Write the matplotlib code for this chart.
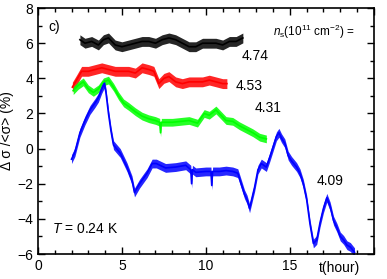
import matplotlib
matplotlib.use("Agg")
import matplotlib.pyplot as plt
import numpy as np

plt.rcParams['font.family'] = ['Liberation Sans', 'DejaVu Sans']
plt.rcParams['mathtext.fontset'] = 'custom'
plt.rcParams['mathtext.rm'] = 'Liberation Sans'
plt.rcParams['mathtext.it'] = 'Liberation Sans:italic'

# ---- data ----
t_474 = [2.5, 2.8, 3.2, 3.6, 3.9, 4.2, 4.6, 5.0, 5.4, 5.8, 6.2, 6.6, 7.0, 7.4, 7.8,
         8.2, 8.6, 9.0, 9.4, 9.8, 10.2, 10.6, 11.0, 11.4, 11.8, 12.2]
v_474 = [6.2, 6.0, 6.1, 5.9, 6.2, 6.3, 5.9, 5.8, 5.9, 6.0, 6.1, 6.1, 6.0, 6.2, 6.3,
         6.2, 6.0, 5.8, 5.8, 6.0, 6.0, 6.0, 5.9, 6.1, 6.1, 6.3]

t_453 = [2.05, 2.3, 2.6, 3.0, 3.4, 3.8, 4.2, 4.6, 5.0, 5.4, 5.8, 6.2, 6.6, 6.9, 7.2,
         7.5, 7.8, 8.2, 8.6, 9.0, 9.4, 9.8, 10.2, 10.6, 11.0, 11.25]
v_453 = [3.5, 3.9, 4.4, 4.4, 4.5, 4.6, 4.5, 4.4, 4.4, 4.4, 4.3, 4.6, 4.5, 4.4, 3.7,
         4.0, 4.1, 3.8, 3.7, 3.8, 3.8, 3.8, 3.9, 3.8, 3.7, 3.7]

t_431 = [2.1, 2.4, 2.7, 3.0, 3.3, 3.6, 3.9, 4.2, 4.5, 4.8, 5.1, 5.4, 5.8, 6.2, 6.6,
         7.0, 7.25, 7.3, 7.35, 7.5, 8.0, 8.5, 9.0, 9.5, 9.9, 10.2, 10.6, 10.9, 11.2,
         11.6, 12.0, 12.4, 12.8, 13.2, 13.6]
v_431 = [3.3, 3.6, 3.8, 3.4, 3.2, 3.4, 3.8, 3.9, 3.5, 3.0, 2.6, 2.4, 2.1, 1.85, 1.7,
         1.6, 1.5, 0.9, 1.5, 1.5, 1.5, 1.55, 1.6, 1.45, 2.0, 1.9, 2.2, 1.9, 1.6,
         1.55, 1.3, 1.1, 0.9, 0.65, 0.55]

t_409 = [2.0, 2.2, 2.5, 2.8, 3.1, 3.4, 3.6, 3.8, 3.95, 4.05, 4.2, 4.35, 4.5, 4.9,
         5.3, 5.6, 5.75, 6.05, 6.5, 6.8, 7.05, 7.6, 8.2, 8.8, 9.1, 9.15, 9.2, 9.4,
         10.0, 10.3, 10.35, 10.4, 10.8, 11.2, 11.6, 11.9, 12.1, 12.3, 12.45, 12.6,
         12.75, 12.9, 13.1, 13.3, 13.6, 13.8, 14.0, 14.2, 14.35, 14.5, 14.7, 14.9,
         15.1, 15.4, 15.6, 15.8, 16.0, 16.2, 16.4, 16.6, 16.8, 17.0, 17.2, 17.4,
         17.6, 17.8, 18.0, 18.2, 18.4, 18.6, 18.85]
v_409 = [-0.6, -0.2, 0.9, 1.6, 2.2, 2.6, 2.9, 3.4, 3.7, 3.2, 2.0, 1.0, 0.2, -0.25,
         -1.05, -1.8, -2.5, -2.0, -1.4, -0.85, -0.85, -1.1, -1.05, -0.95, -1.2,
         -2.0, -1.2, -1.35, -1.3, -1.3, -2.1, -1.3, -1.3, -1.25, -1.3, -1.4, -2.0,
         -2.6, -2.9, -3.4, -2.8, -2.2, -1.2, -0.85, -1.05, -0.5, 0.1, 0.7, 0.9, 0.6,
         0.3, -0.4, -0.7, -1.05, -1.4, -2.0, -2.9, -4.3, -5.4, -5.2, -4.2, -3.4,
         -2.8, -3.3, -4.1, -4.5, -5.0, -5.2, -5.5, -5.6, -5.9]

series = [
    (t_474, v_474, 0.28, '#000000'),
    (t_453, v_453, 0.28, '#ff0000'),
    (t_431, v_431, 0.22, '#00ff00'),
    (t_409, v_409, 0.25, '#0000ff'),
]

xticks_major = [0, 5, 10, 15, 20]
xtick_labels = ['0', '5', '10', '15', '']
yticks_major = [-6, -4, -2, 0, 2, 4, 6, 8]

fig = plt.figure(figsize=(3.87, 2.79), dpi=100)
ax = fig.add_axes([0.098, 0.0896, 0.868, 0.8814])

for t, v, hw, c in series:
    t = np.asarray(t)
    v = np.asarray(v)
    ax.fill_between(t, v - hw, v + hw, color=c, lw=0, alpha=0.85)
    ax.plot(t, v, color=c, lw=1.2)

ax.set_xlim(0, 20)
ax.set_ylim(-6, 8)
ax.set_xticks(xticks_major)
ax.set_xticklabels(xtick_labels)
ax.set_xticks(np.arange(0, 21, 1), minor=True)
ax.set_yticks(yticks_major)
ax.set_yticks(np.arange(-6, 9, 1), minor=True)
ax.tick_params(which='both', direction='in', top=True, right=True, labelsize=10, width=1)
ax.tick_params(which='major', length=5)
ax.tick_params(which='minor', length=3)
for s in ax.spines.values():
    s.set_linewidth(1.2)

ax.set_ylabel('\u0394 \u03c3 /<\u03c3> (%)', fontsize=10, labelpad=2)
ax.text(0.899, -0.057, 't(hour)', transform=ax.transAxes, ha='center', va='center', fontsize=10)

ax.text(0.6, 6.9, 'c)', fontsize=10, va='center')
ax.text(14.0, 6.65, r'$n_{\rm s}$(10$^{11}$ cm$^{-2}$) =', fontsize=8.5, va='center')
ax.text(12.1, 5.25, '4.74', fontsize=10, va='center')
ax.text(11.8, 3.55, '4.53', fontsize=10, va='center')
ax.text(12.9, 2.3, '4.31', fontsize=10, va='center')
ax.text(16.6, -1.85, '4.09', fontsize=10, va='center')
ax.text(0.85, -4.6, r'$T$ = 0.24 K', fontsize=10, va='center')

fig.savefig('out.png', dpi=100)
